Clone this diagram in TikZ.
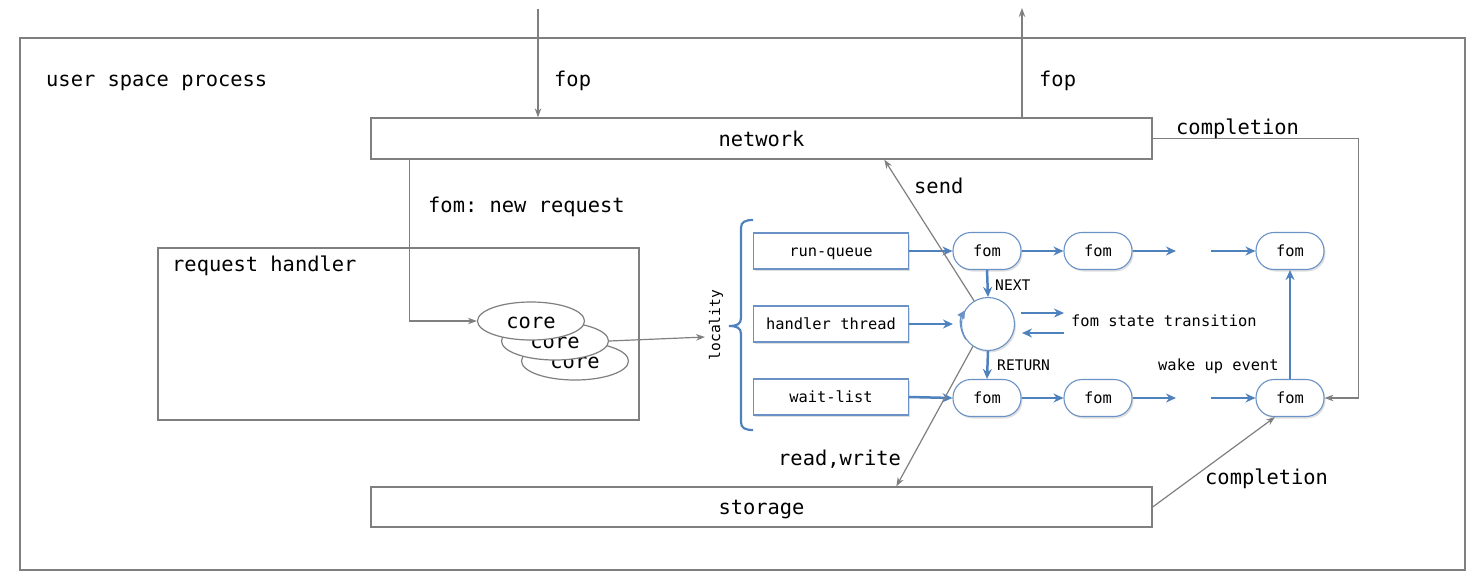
\documentclass[tikz,border=0pt]{standalone}
\usepackage{fontspec}
\setmonofont{DejaVu Sans Mono}
\usetikzlibrary{arrows.meta,shadows,shapes.geometric}
\definecolor{linegray}{HTML}{7F7F7F}
\definecolor{flowblue}{HTML}{4F81BD}
\definecolor{boxblue}{HTML}{6A92C6}

\tikzset{
  big/.style={font=\ttfamily\fontsize{20.4}{24}\selectfont},
  small/.style={font=\ttfamily\fontsize{15.4}{18}\selectfont},
  tiny/.style={font=\ttfamily\fontsize{14.6}{17}\selectfont},
  txt/.style={inner sep=0pt, anchor=base west},
  graybox/.style={draw=linegray, line width=1.3pt, fill=white, big, inner sep=0pt,
    text height=15pt, text depth=0pt},
  garrow/.style={draw=linegray, line width=1.2pt, -{Stealth[length=9pt,width=6.5pt]}},
  gline/.style={draw=linegray, line width=1.2pt},
  barrow/.style={draw=flowblue, line width=2.5pt, -{Stealth[length=10pt,width=9pt]}},
  softshadow/.style={drop shadow={shadow xshift=1.5pt, shadow yshift=-2pt, opacity=0.25, fill=gray}},
  qbox/.style={draw=boxblue, line width=1.1pt, fill=white, small, minimum width=155pt,
    minimum height=36pt, inner sep=0pt, text height=11pt, text depth=0pt, softshadow},
  pill/.style={draw=boxblue, line width=1.1pt, fill=white, rounded corners=18pt, small,
    minimum width=68pt, minimum height=37pt, inner sep=0pt, text height=11pt, text depth=0pt, softshadow},
  core/.style={ellipse, draw=linegray, fill=white, line width=1.2pt, minimum width=107pt,
    minimum height=38pt, big, inner sep=0pt, text height=15pt, text depth=0pt}
}

\begin{document}
\begin{tikzpicture}[x=1pt,y=-1pt]
\useasboundingbox (0,0) rectangle (1477,582);

% process frame
\draw[gline] (20,38) rectangle (1465,570);
\node[txt, big] (usp) at (46,86) {user space process};

% network and storage
\node[graybox, minimum width=781pt, minimum height=41pt] (net) at (761.5,138.5) {network};
\node[graybox, minimum width=781pt, minimum height=40pt] (stor) at (761.5,507) {storage};

% request handler with cores
\node[draw=linegray, line width=1.2pt, minimum width=481pt, minimum height=172pt, inner sep=0pt] (rh) at (398.5,334) {};
\node[txt, big] (rhl) at (172,271) {request handler};
\node[core] (core3) at (575,361) {core};
\node[core] (core2) at (555,341) {core};
\node[core] (core1) at (531,321) {core};

% locality bracket
\draw[flowblue, line width=2.2pt] (753,220) .. controls (745,220) and (741,222) .. (741,228)
  -- (741,318) .. controls (741,324) and (737,326) .. (729,326)
  .. controls (737,326) and (741,328) .. (741,334)
  -- (741,422) .. controls (741,428) and (745,430) .. (753,430);
\node[tiny, rotate=90, inner sep=0pt] (loc) at (716,325) {locality};
\coordinate (locin) at (705,337);

% queues
\node[qbox] (rq) at (831,251) {run-queue};
\node[qbox] (ht) at (831,324) {handler thread};
\node[qbox] (wl) at (831,397) {wait-list};

% fom chains
\node[pill] (f1) at (987,251) {fom};
\node[pill] (f2) at (1098,251) {fom};
\node[pill] (f3) at (1290,251) {fom};
\node[pill] (b1) at (987,398) {fom};
\node[pill] (b2) at (1098,398) {fom};
\node[pill] (b3) at (1290,398) {fom};
\node[circle, draw=boxblue, line width=1.1pt, fill=white, minimum size=53pt, inner sep=0pt, softshadow] (circ) at (988,324) {};
\draw[boxblue, line width=1.1pt, -{Triangle[length=8pt,width=8pt]}] (circ.215) arc[start angle=215, end angle=148, radius=26.5pt];

\coordinate (t1) at (1176,251);
\coordinate (t2) at (1211,251);
\coordinate (u1) at (1176,398);
\coordinate (u2) at (1211,398);
\coordinate (s1) at (1021,313);
\coordinate (s2) at (1064,313);
\coordinate (s3) at (1064,333);
\coordinate (s4) at (1022,333);

\draw[barrow] (rq.east) -- (f1.west);
\draw[barrow] (f1.east) -- (f2.west);
\draw[barrow] (f2.east) -- (t1);
\draw[barrow] (t2) -- (f3.west);
\draw[barrow] (wl.east) -- (b1.west);
\draw[barrow] (b1.east) -- (b2.west);
\draw[barrow] (b2.east) -- (u1);
\draw[barrow] (u2) -- (b3.west);
\draw[barrow, shorten >=8pt] (ht.east) -- (circ.west);
\draw[barrow] (f1.south) -- (circ.north);
\draw[barrow] (circ.south) -- (b1.north);
\draw[barrow] (s1) -- (s2);
\draw[barrow] (s3) -- (s4);
\draw[barrow] (b3.north) -- (f3.south);

\node[txt, tiny] (nxt) at (995,290) {NEXT};
\node[txt, tiny] (ret) at (997,370) {RETURN};
\node[txt, small] (fst) at (1071,326) {fom state transition};
\node[txt, small] (wue) at (1158,370) {wake up event};

% external flows
\coordinate (fopin) at (538,9);
\coordinate (fopout) at (1022,8);
\draw[garrow] (fopin) -- (fopin |- net.north);
\draw[garrow] (net.north -| fopout) -- (fopout);
\node[txt, big] (fop1) at (554,86) {fop};
\node[txt, big] (fop2) at (1039,86) {fop};

\draw[garrow] ([xshift=39pt]net.south west) |- (core1.west);
\node[txt, big] (fnr) at (428,212) {fom: new request};
\draw[garrow] (core2.east) -- (locin);

\draw[garrow] (circ.121) -- ([xshift=514pt]net.south west);
\node[txt, big] (snd) at (914,193) {send};
\draw[garrow] (circ.236) -- ([xshift=526pt]stor.north west);
\node[txt, big] (rw) at (778,465) {read,write};

\draw[garrow] (net.east) -- ++(206,0) |- (b3.east);
\node[txt, big] (cmp1) at (1176,134) {completion};
\draw[garrow] (stor.east) -- ([xshift=-15pt]b3.south);
\node[txt, big] (cmp2) at (1205,484) {completion};
\end{tikzpicture}
\end{document}
